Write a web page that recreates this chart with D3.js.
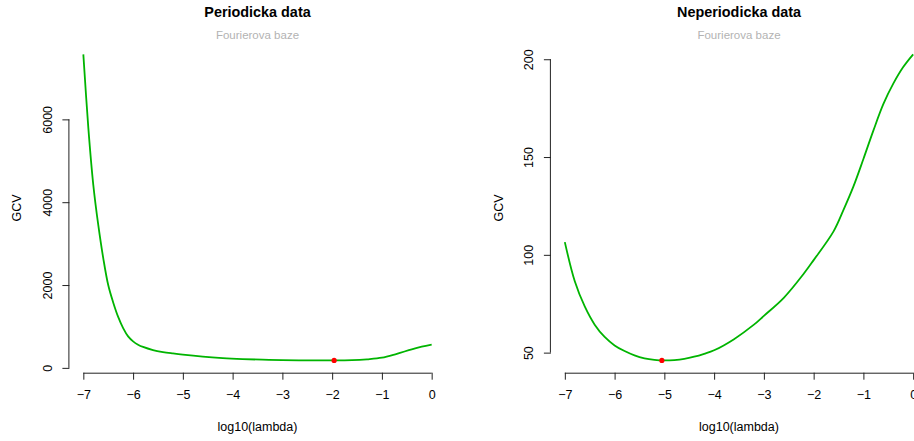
<!DOCTYPE html>
<html>
<head>
<meta charset="utf-8">
<script src="https://cdn.jsdelivr.net/npm/d3@7"></script>
<style>
  body { margin: 0; background: #fff; }
  text { font-family: "Liberation Sans", Arial, sans-serif; }
</style>
</head>
<body>
<div id="chart"></div>
<script>
// log10(lambda) grid and GCV values
var perLambda = [-7, -6.9, -6.8, -6.7, -6.6, -6.5, -6.4, -6.3, -6.2, -6.1, -6, -5.9, -5.8, -5.6, -5.4, -5.2, -5,
  -4.6, -4.2, -3.8, -3.4, -3, -2.5, -2, -1.6, -1.3, -1, -0.7, -0.4, -0.2, 0];
var perGcv = [7570, 5800, 4420, 3450, 2650, 2000, 1580, 1230, 960, 760, 640, 560, 505, 430, 382, 348, 318,
  270, 236, 213, 197, 187, 181, 179, 186, 207, 245, 340, 448, 510, 560];
var perMin = [-1.96, 179];

var nonLambda = [-7, -6.8, -6.6, -6.4, -6.2, -6, -5.8, -5.6, -5.4, -5.2, -5, -4.8, -4.6, -4.4, -4.2, -4,
  -3.6, -3.2, -3, -2.6, -2.2, -2, -1.6, -1.4, -1.2, -1, -0.8, -0.6, -0.4, -0.2, 0];
var nonGcv = [106.5, 86.5, 73.6, 64.3, 58, 53.7, 50.8, 48.6, 47.1, 46.3, 46, 46.2, 46.8, 47.9, 49.4, 51.2,
  56.9, 64.3, 68.8, 78, 90.3, 97.3, 112, 123, 135, 149, 163.5, 177, 187.5, 196, 202.5];
var nonMin = [-5.05, 46];

var xTicks = [-7, -6, -5, -4, -3, -2, -1, 0];
var perTicks = [0, 2000, 4000, 6000];
var nonTicks = [50, 100, 150, 200];

var titles = ["Periodicka data", "Neperiodicka data"];
var subtitle = "Fourierova baze";

var width = 914, height = 441;
var svg = d3.select("#chart").append("svg")
  .attr("width", width)
  .attr("height", height);

// one panel, R base graphics look
function panel(offsetX, title, xs, ys, minPt, yTicks) {
  var left = offsetX + 69.4, right = offsetX + 445.6;
  var top = 42.1, bottom = 372.7;

  var xScale = d3.scaleLinear().domain([-7.28, 0.28]).range([left, right]);
  var ext = d3.extent(ys);
  var pad = (ext[1] - ext[0]) * 0.04;
  var yScale = d3.scaleLinear().domain([ext[0] - pad, ext[1] + pad]).range([bottom, top]);

  var g = svg.append("g");

  var xAxis = g.append("g")
    .attr("transform", "translate(0," + bottom + ")")
    .call(d3.axisBottom(xScale).tickValues(xTicks).tickSize(7).tickPadding(10)
      .tickFormat(function(d) { return d < 0 ? "\u2212" + Math.abs(d) : d; }));
  xAxis.select(".domain").attr("d", "M" + xScale(-7) + ",0.5H" + xScale(0));

  var yAxis = g.append("g")
    .attr("transform", "translate(" + left + ",0)")
    .call(d3.axisLeft(yScale).tickValues(yTicks).tickSize(7).tickPadding(0)
      .tickFormat(d3.format("d")));
  yAxis.select(".domain").attr("d", "M-0.5," + yScale(yTicks[0]) + "V" + yScale(yTicks[yTicks.length - 1]));
  yAxis.selectAll(".tick text")
    .attr("x", null).attr("dy", null)
    .attr("text-anchor", "middle")
    .attr("transform", "translate(-17.5,0) rotate(-90)");

  g.selectAll(".domain, .tick line").attr("stroke", "#222");
  g.selectAll(".tick text").attr("font-size", 12.5).attr("fill", "#000")
    .attr("font-family", "Liberation Sans, Arial, sans-serif");

  var line = d3.line()
    .x(function(d, i) { return xScale(xs[i]); })
    .y(function(d) { return yScale(d); })
    .curve(d3.curveCatmullRom.alpha(0.5));

  g.append("path")
    .attr("d", line(ys))
    .attr("fill", "none")
    .attr("stroke", "#00b400")
    .attr("stroke-width", 1.8);

  g.append("circle")
    .attr("cx", xScale(minPt[0]))
    .attr("cy", yScale(minPt[1]))
    .attr("r", 2.6)
    .attr("fill", "#ff0000");

  var cx = (left + right) / 2;
  g.append("text").attr("x", cx).attr("y", 17.3)
    .attr("text-anchor", "middle").attr("font-weight", "bold").attr("font-size", 14.4)
    .text(title);
  g.append("text").attr("x", cx).attr("y", 39.3)
    .attr("text-anchor", "middle").attr("font-size", 11.5).attr("fill", "#b3b3b3")
    .text(subtitle);
  g.append("text").attr("x", cx).attr("y", 430.7)
    .attr("text-anchor", "middle").attr("font-size", 12.5)
    .text("log10(lambda)");
  g.append("text")
    .attr("transform", "translate(" + (offsetX + 21) + "," + 208 + ") rotate(-90)")
    .attr("text-anchor", "middle").attr("font-size", 12.5)
    .text("GCV");
}

panel(0, titles[0], perLambda, perGcv, perMin, perTicks);
panel(481.5, titles[1], nonLambda, nonGcv, nonMin, nonTicks);
</script>
</body>
</html>
